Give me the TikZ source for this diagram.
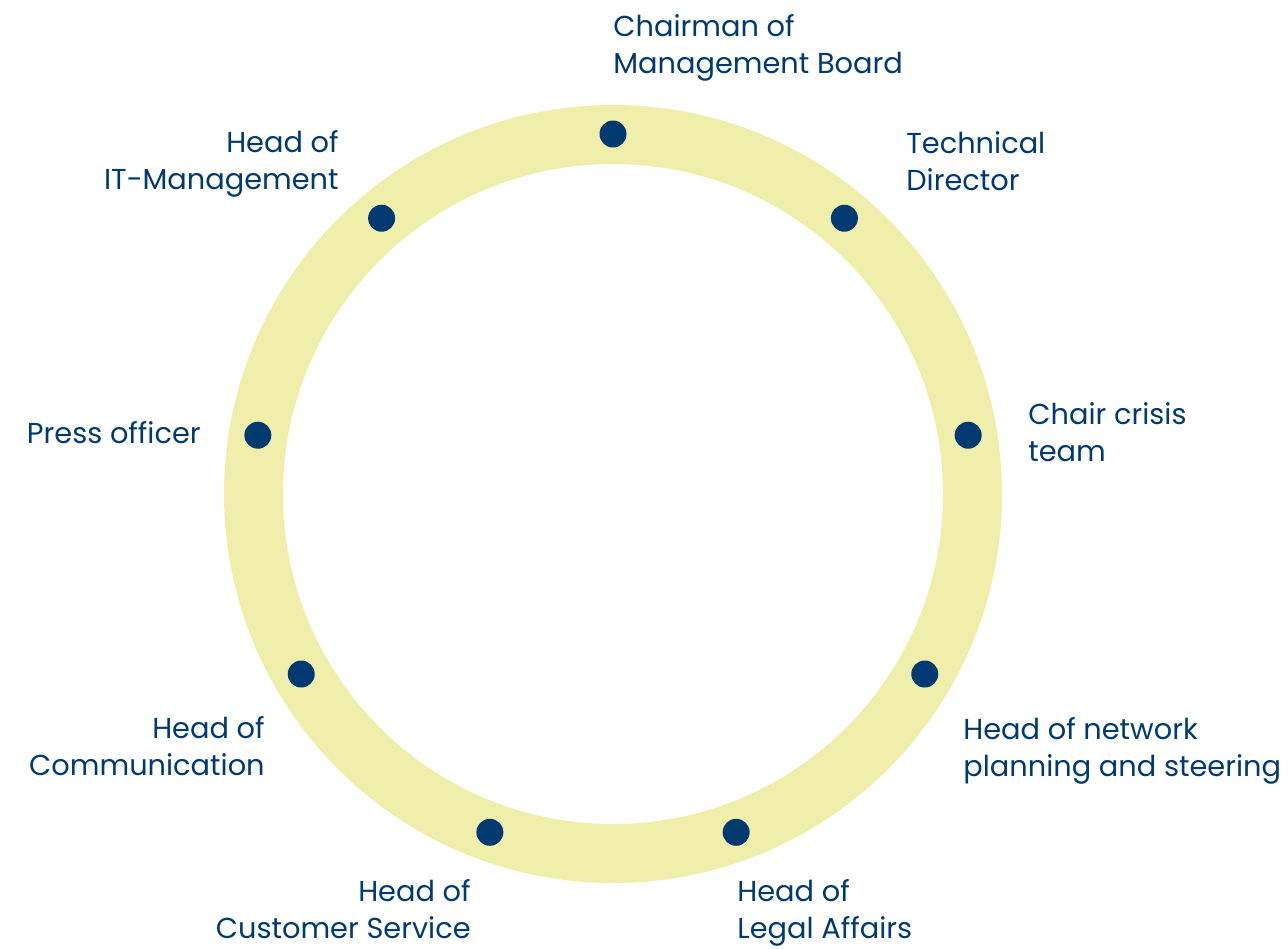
\documentclass[tikz,border=0pt]{standalone}
\usepackage{fontspec}
\setmainfont{Poppins}
\usepackage{tikz}
\usetikzlibrary{calc}
\definecolor{ringyellow}{HTML}{EFEFAB}
\definecolor{navy}{HTML}{003A70}
\tikzset{
  ring/.style={draw=ringyellow, line width=1.18cm},
  dot/.style={circle, fill=navy, inner sep=0pt, minimum size=0.54cm},
  lbl/.style={text=navy, inner sep=0pt, font=\fontsize{16.4}{20.8}\selectfont},
  lblleft/.style={lbl, align=left, anchor=base west},
  lblright/.style={lbl, align=right, anchor=base east}
}

\begin{document}
\begin{tikzpicture}[x=0.02cm, y=-0.02cm]
		%%%%% START %%%%%
		\useasboundingbox (0, 0) rectangle (1288, 948);
		\coordinate (cen) at (613, 494);
		
		\draw[ring] (cen) circle (359.5);
		
		\path (cen) ++(-90:360) node[dot] (chairdot) {};
		\path (cen) ++(-50:360) node[dot] (techdot) {};
		\path (cen) ++(-9.4:360) node[dot] (crisisdot) {};
		\path (cen) ++(30:360) node[dot] (networkdot) {};
		\path (cen) ++(70:360) node[dot] (legaldot) {};
		\path (cen) ++(110:360) node[dot] (customerdot) {};
		\path (cen) ++(150:360) node[dot] (commdot) {};
		\path (cen) ++(-170.6:360) node[dot] (pressdot) {};
		\path (cen) ++(-130:360) node[dot] (itdot) {};
		
		% labels: y is the baseline of the last line
		\node[lblleft] (chair) at (613, 73.5) {Chairman of\\Management Board};
		\node[lblleft] (tech) at (906, 190) {Technical\\Director};
		\node[lblleft] (crisis) at (1028, 461) {Chair crisis\\team};
		\node[lblleft] (network) at (963, 776) {Head of network\\planning and steering};
		\node[lblleft] (legal) at (737, 938) {Head of\\Legal Affairs};
		\node[lblright] (customer) at (471, 938) {Head of\\Customer Service};
		\node[lblright] (comm) at (265, 775) {Head of\\Communication};
		\node[lblright] (press) at (201, 443) {Press officer};
		\node[lblright] (it) at (339, 189) {Head of\\IT-Management};
		%%%%% END %%%%%
	\end{tikzpicture}
\end{document}
